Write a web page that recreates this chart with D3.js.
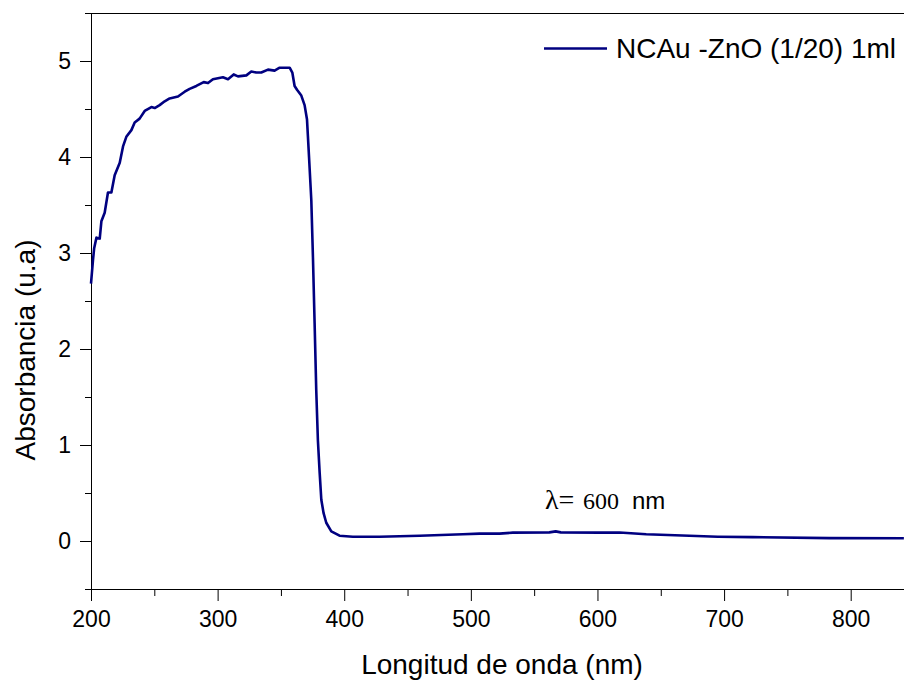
<!DOCTYPE html>
<html>
<head>
<meta charset="utf-8">
<script src="https://cdn.jsdelivr.net/npm/d3@7"></script>
<style>
  body { margin: 0; background: #fff; }
  svg { display: block; }
</style>
</head>
<body>
<script>
// UV-vis absorbance spectrum

var wavelength = [200, 201.6, 202.5, 204.3, 206.9, 208.2, 210.8, 213.4, 216.1, 218.7,
  222.7, 225.3, 227.9, 231.9, 234.5, 238.4, 242.4, 247.7, 250.3, 254.2,
  258.2, 262.1, 268.7, 274.0, 277.9, 283.2, 289.0, 292.4, 296.3, 304.2,
  308.2, 312.7, 316.1, 322.7, 326.6, 330.6, 334.5, 339.8, 345.0, 349.0,
  356.9, 359.0, 360.8, 362.7, 366.1, 368.7, 370.6, 371.3, 372.2, 374.0,
  375.3, 376.6, 377.9, 379.2, 380.6, 381.9, 383.7, 385.8, 389.8, 396.3,
  406.8, 427.9, 459.5, 493.7, 506.9, 522.7, 533.2, 562, 567, 571,
  601.6, 617.4, 638.5, 672.6, 695, 722.6, 783.2, 842];
var absorbance = [2.68, 2.93, 3.05, 3.16, 3.15, 3.33, 3.42, 3.63, 3.63, 3.81,
  3.94, 4.11, 4.21, 4.28, 4.36, 4.40, 4.48, 4.52, 4.51, 4.54,
  4.58, 4.61, 4.63, 4.68, 4.71, 4.74, 4.78, 4.77, 4.81, 4.83,
  4.81, 4.86, 4.84, 4.85, 4.89, 4.88, 4.88, 4.91, 4.90, 4.93,
  4.93, 4.88, 4.74, 4.70, 4.64, 4.54, 4.39, 4.22, 4.00, 3.55,
  2.95, 2.27, 1.57, 1.05, 0.71, 0.43, 0.29, 0.19, 0.10, 0.055,
  0.045, 0.045, 0.055, 0.07, 0.077, 0.077, 0.087, 0.09, 0.10, 0.09,
  0.087, 0.088, 0.07, 0.055, 0.045, 0.04, 0.03, 0.028];

var xMajor = [200, 300, 400, 500, 600, 700, 800];
var xMinor = [250, 350, 450, 550, 650, 750];
var yMajor = [0, 1, 2, 3, 4, 5];
var yMinor = [-0.5, 0.5, 1.5, 2.5, 3.5, 4.5, 5.5];

var seriesName = "NCAu -ZnO (1/20) 1ml";
var xTitle = "Longitud de onda (nm)";
var yTitle = "Absorbancia (u.a)";

var width = 904;
var height = 683;
var sans = "'Liberation Sans', Arial, sans-serif";
var serif = "'Liberation Serif', 'Times New Roman', serif";

var svg = d3.select("body").append("svg")
    .attr("width", width)
    .attr("height", height);

var x = d3.scaleLinear().domain([200, 842.1]).range([91, 904]);
var y = d3.scaleLinear().domain([-0.5, 5.5]).range([589, 13]);

// minor ticks first, no labels
svg.append("g")
    .attr("transform", "translate(0,589)")
    .call(d3.axisBottom(x).tickValues(xMinor).tickSize(7).tickSizeOuter(0).tickFormat(""))
    .call(g => g.select(".domain").remove());

svg.append("g")
    .attr("transform", "translate(91,0)")
    .call(d3.axisLeft(y).tickValues(yMinor).tickSize(6).tickSizeOuter(0).tickFormat(""))
    .call(g => g.select(".domain").remove());

// major ticks and labels
svg.append("g")
    .attr("transform", "translate(0,589)")
    .call(d3.axisBottom(x).tickValues(xMajor).tickFormat(d3.format("d"))
      .tickSize(12).tickSizeOuter(0).tickPadding(10));

svg.append("g")
    .attr("transform", "translate(91,0)")
    .call(d3.axisLeft(y).tickValues(yMajor).tickFormat(d3.format("d"))
      .tickSize(11).tickSizeOuter(0).tickPadding(9));

svg.selectAll(".tick text")
    .style("font-family", sans)
    .style("font-size", "23px")
    .attr("fill", "#000");

// top frame line
svg.append("line")
    .attr("x1", 91)
    .attr("x2", width)
    .attr("y1", 13.5)
    .attr("y2", 13.5)
    .attr("stroke", "#000");

// spectrum
var points = wavelength.map((w, i) => [w, absorbance[i]]);

svg.append("path")
    .datum(points)
    .attr("fill", "none")
    .attr("stroke", "#000080")
    .attr("stroke-width", 2.6)
    .attr("stroke-linejoin", "round")
    .attr("d", d3.line().x(d => x(d[0])).y(d => y(d[1])));

// legend
svg.append("line")
    .attr("x1", 544)
    .attr("x2", 607)
    .attr("y1", 48.5)
    .attr("y2", 48.5)
    .attr("stroke", "#000080")
    .attr("stroke-width", 2.6);

svg.append("text")
    .text(seriesName)
    .style("font-family", sans)
    .style("font-size", "28px")
    .attr("x", 616)
    .attr("y", 58);

// annotation
var note = svg.append("text")
    .attr("y", 509);
note.append("tspan").attr("x", 545).style("font-family", serif).style("font-size", "28px").text("λ=");
note.append("tspan").attr("x", 583).style("font-family", serif).style("font-size", "24px").text("600");
note.append("tspan").attr("x", 632).style("font-family", sans).style("font-size", "24px").text("nm");

// axis titles
svg.append("text")
    .text(xTitle)
    .style("font-family", sans)
    .style("font-size", "28px")
    .attr("text-anchor", "middle")
    .attr("x", 502)
    .attr("y", 674);

svg.append("text")
    .text(yTitle)
    .style("font-family", sans)
    .style("font-size", "28px")
    .attr("text-anchor", "middle")
    .attr("transform", "translate(35,350) rotate(-90)");
</script>
</body>
</html>
